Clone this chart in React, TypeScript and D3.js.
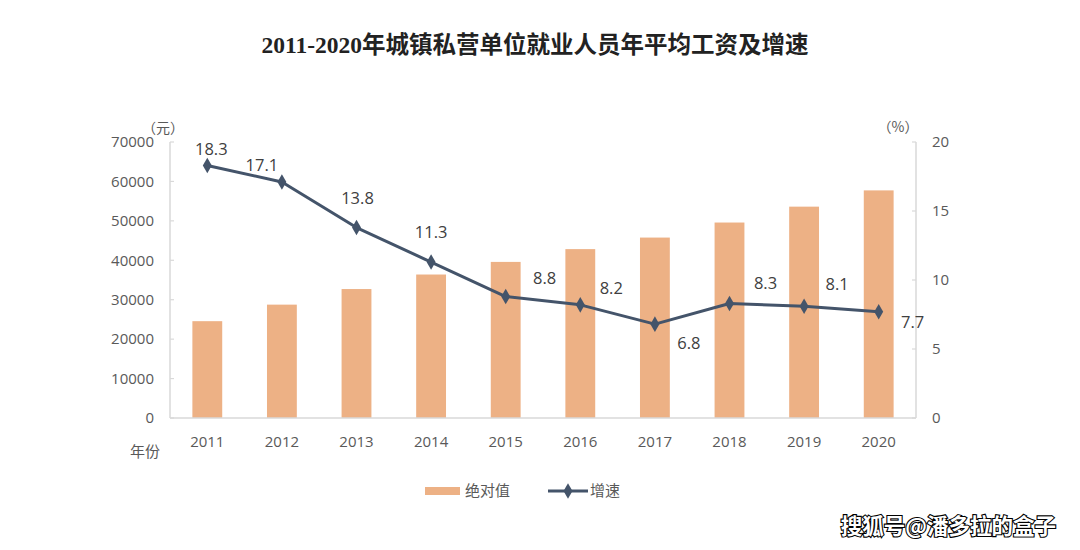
import React from "react";
import * as d3 from "d3";

const years = ["2011", "2012", "2013", "2014", "2015", "2016", "2017", "2018", "2019", "2020"];
const wages = [24556, 28752, 32706, 36390, 39589, 42833, 45761, 49575, 53604, 57727];
const growth = [18.3, 17.1, 13.8, 11.3, 8.8, 8.2, 6.8, 8.3, 8.1, 7.7];
const leftTicks = [0, 10000, 20000, 30000, 40000, 50000, 60000, 70000];
const rightTicks = [0, 5, 10, 15, 20];
// label offsets relative to each point (dx, dy)
const labelOffsets: [number, number][] = [
  [4, -16], [-20, -17], [1, -29], [0, -30], [39, -18],
  [31, -17], [34, 19], [36, -20], [33, -22], [34, 10],
];

const W = 1080;
const H = 550;
const left = 170;
const right = 916;
const top = 142;
const bottom = 418;

const BAR = "#EDB185";
const LINE = "#44546A";
const AXIS = "#D9D9D9";
const TXT = "#595959";
const NUM = "Open Sans, Noto Sans, sans-serif";
const CJK = "Noto Sans CJK SC, sans-serif";

export default function App() {
  const x = d3.scaleBand<string>().domain(years).range([left, right]).paddingInner(0.6).paddingOuter(0.3);
  const yL = d3.scaleLinear().domain([0, 70000]).range([bottom, top]);
  const yR = d3.scaleLinear().domain([0, 20]).range([bottom, top]);
  const cx = (y: string) => (x(y) ?? 0) + x.bandwidth() / 2;
  const line = d3
    .line<number>()
    .x((_, i) => cx(years[i]))
    .y((d) => yR(d));
  const diamond = d3.symbol().type(d3.symbolDiamond).size(70)() as string;

  return (
    <svg width={W} height={H} style={{ position: "absolute", left: 0, top: 0, background: "#fff" }}>
      <rect x={0} y={0} width={W} height={H} fill="#fff" />
      <text
        x={535}
        y={53}
        textAnchor="middle"
        fontFamily="Liberation Serif, Noto Sans CJK SC, serif"
        fontWeight="bold"
        fontSize={23.5}
        fill="#222"
      >
        2011-2020年城镇私营单位就业人员年平均工资及增速
      </text>

      {/* bars */}
      {wages.map((v, i) => (
        <rect
          key={years[i]}
          x={x(years[i])}
          y={yL(v)}
          width={x.bandwidth()}
          height={bottom - yL(v)}
          fill={BAR}
        />
      ))}

      {/* axes */}
      <line x1={left} x2={left} y1={top} y2={bottom} stroke={AXIS} strokeWidth={1.5} />
      <line x1={right} x2={right} y1={top} y2={bottom} stroke={AXIS} strokeWidth={1.5} />
      <line x1={left} x2={right} y1={bottom} y2={bottom} stroke={AXIS} strokeWidth={1.5} />
      {leftTicks.map((t) => (
        <g key={"l" + t}>
          <line x1={left} x2={left + 4} y1={yL(t)} y2={yL(t)} stroke={AXIS} strokeWidth={1.2} />
          <text
            x={154}
            y={yL(t)}
            dy="0.35em"
            textAnchor="end"
            fontFamily={NUM}
            fontSize={15}
            fill={TXT}
          >
            {t}
          </text>
        </g>
      ))}
      {rightTicks.map((t) => (
        <g key={"r" + t}>
          <line x1={right - 4} x2={right} y1={yR(t)} y2={yR(t)} stroke={AXIS} strokeWidth={1.2} />
          <text x={932} y={yR(t)} dy="0.35em" textAnchor="start" fontFamily={NUM} fontSize={15} fill={TXT}>
            {t}
          </text>
        </g>
      ))}
      {years.map((y) => (
        <text key={"x" + y} x={cx(y)} y={442} dy="0.35em" textAnchor="middle" fontFamily={NUM} fontSize={15} fill={TXT}>
          {y}
        </text>
      ))}
      <text x={145} y={452} dy="0.35em" textAnchor="middle" fontFamily={CJK} fontSize={15} fill={TXT}>
        年份
      </text>
      <text x={163} y={128} dy="0.35em" textAnchor="middle" fontFamily={CJK} fontSize={14} fill={TXT}>
        （元）
      </text>
      <text x={898} y={127} dy="0.35em" textAnchor="middle" fontFamily={CJK} fontSize={14} fill={TXT}>
        （%）
      </text>

      {/* line */}
      <path d={line(growth) ?? ""} fill="none" stroke={LINE} strokeWidth={3} strokeLinejoin="round" />
      {growth.map((v, i) => (
        <path key={"m" + i} d={diamond} transform={`translate(${cx(years[i])},${yR(v)})`} fill={LINE} />
      ))}
      {growth.map((v, i) => (
        <text
          key={"t" + i}
          x={cx(years[i]) + labelOffsets[i][0]}
          y={yR(v) + labelOffsets[i][1]}
          dy="0.35em"
          textAnchor="middle"
          fontFamily={NUM}
          fontSize={16.5}
          fill="#404040"
        >
          {v.toFixed(1)}
        </text>
      ))}

      {/* legend */}
      <rect x={425} y={487} width={35} height={8} fill={BAR} />
      <text x={465} y={491} dy="0.35em" fontFamily={CJK} fontSize={15} fill={TXT}>
        绝对值
      </text>
      <line x1={548} x2={588} y1={491} y2={491} stroke={LINE} strokeWidth={3} />
      <path d={diamond} transform="translate(568,491)" fill={LINE} />
      <text x={590} y={491} dy="0.35em" fontFamily={CJK} fontSize={15} fill={TXT}>
        增速
      </text>

      {/* watermark */}
      <text
        x={1056}
        y={526}
        dy="0.35em"
        textAnchor="end"
        fontFamily={CJK}
        fontWeight="bold"
        fontSize={21.5}
        fill="#fff"
        stroke="#000"
        strokeWidth={2.2}
        paintOrder="stroke"
      >
        搜狐号@潘多拉的盒子
      </text>
    </svg>
  );
}
